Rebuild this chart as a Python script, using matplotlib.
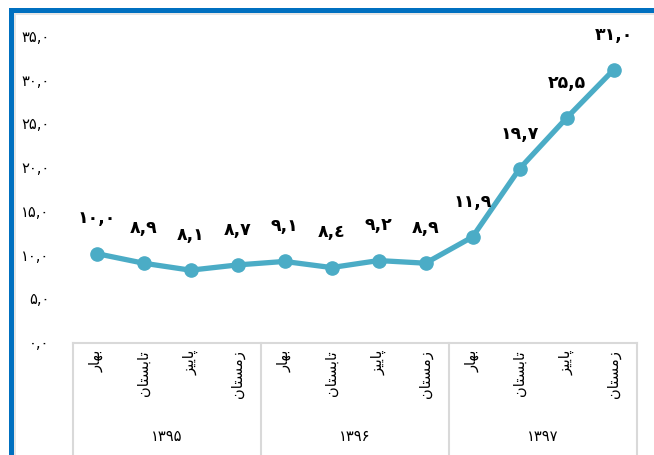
import matplotlib
matplotlib.use('Agg')
import matplotlib.pyplot as plt
from matplotlib.patches import Rectangle

# data
seasons = ['بهار', 'تابستان', 'پاییز', 'زمستان']
years = ['۱۳۹۵', '۱۳۹۶', '۱۳۹۷']
values = [10.0, 8.9, 8.1, 8.7, 9.1, 8.4, 9.2, 8.9, 11.9, 19.7, 25.5, 31.0]
value_labels = ['۱۰,۰', '۸,۹', '۸,۱', '۸,۷', '۹,۱', '۸,٤', '۹,۲', '۸,۹',
                '۱۱,۹', '۱۹,۷', '۲۵,۵', '۳۱,۰']
yticks = [0, 5, 10, 15, 20, 25, 30, 35]
ytick_labels = ['۰,۰', '۵,۰', '۱۰,۰', '۱۵,۰', '۲۰,۰', '۲۵,۰', '۳۰,۰', '۳۵,۰']

# tiny arabic shaper (matplotlib has no text shaping)
FORMS = {
    'ب': (0xFE8F, 0xFE90, 0xFE91, 0xFE92),
    'ه': (0xFEE9, 0xFEEA, 0xFEEB, 0xFEEC),
    'ا': (0xFE8D, 0xFE8E, None, None),
    'ر': (0xFEAD, 0xFEAE, None, None),
    'ز': (0xFEAF, 0xFEB0, None, None),
    'ت': (0xFE95, 0xFE96, 0xFE97, 0xFE98),
    'س': (0xFEB1, 0xFEB2, 0xFEB3, 0xFEB4),
    'ن': (0xFEE5, 0xFEE6, 0xFEE7, 0xFEE8),
    'پ': (0xFB56, 0xFB57, 0xFB58, 0xFB59),
    'ی': (0xFBFC, 0xFBFD, 0xFBFE, 0xFBFF),
    'م': (0xFEE1, 0xFEE2, 0xFEE3, 0xFEE4),
}

def shape(word):
    out = []
    for i, ch in enumerate(word):
        prev_joins = i > 0 and FORMS[word[i-1]][2] is not None
        next_exists = i < len(word) - 1
        f = FORMS[ch]
        joins_next = next_exists and f[2] is not None
        if prev_joins and joins_next:
            cp = f[3]
        elif prev_joins:
            cp = f[1]
        elif joins_next:
            cp = f[2]
        else:
            cp = f[0]
        out.append(chr(cp))
    return ''.join(out[::-1])

plt.rcParams['font.family'] = ['DejaVu Sans']

fig = plt.figure(figsize=(6.54, 4.56), dpi=100)
ax = fig.add_axes([73/654, 1-342/456, 564/654, 306/456])

x = list(range(len(values)))
col = '#4BACC6'
ax.plot(x, values, '-o', c=col, lw=3.8, ms=9.5, clip_on=False)

for xi, v, lab in zip(x, values, value_labels):
    ax.annotate(lab, (xi, v), xytext=(0, 26), textcoords='offset points',
                ha='center', va='center', fontsize=12.5, fontweight='bold')

ax.set_xlim(-0.5, 11.5)
ax.set_ylim(0, 35)
ax.set_yticks(yticks)
ax.set_yticklabels(ytick_labels, fontsize=10.5)
ax.set_xticks([])
ax.tick_params(axis='y', length=0, pad=17)
for s in ax.spines.values():
    s.set_visible(False)

# category box under the axis
tr = ax.get_xaxis_transform()
grey = '#d9d9d9'
ybox_top = -1.5/306
ybox_bot = -118/306
ax.plot([-0.5, 11.5], [ybox_top, ybox_top], c=grey, lw=1.5, transform=tr, clip_on=False)
for b in [-0.5, 3.5, 7.5, 11.5]:
    ax.plot([b, b], [ybox_top, ybox_bot], c=grey, lw=1.5, transform=tr, clip_on=False)

for i in x:
    ax.text(i, -8/306, shape(seasons[i % 4]), rotation=90, ha='center', va='top',
            fontsize=10.5, transform=tr)
for j, yr in enumerate(years):
    ax.text(4*j + 1.5, -95/306, yr, ha='center', va='center', fontsize=10.5, transform=tr)

# blue frame on the left and top
fig.add_artist(Rectangle((9/654, 0), 4.5/654, (456-9)/456, transform=fig.transFigure,
                         color='#0070C0', lw=0))
fig.add_artist(Rectangle((9/654, (456-13.5)/456), 1, 4.5/456, transform=fig.transFigure,
                         color='#0070C0', lw=0))
fig.add_artist(Rectangle((13.5/654, 0), 2/654, (456-13.5)/456, transform=fig.transFigure,
                         color='#e6e6e6', lw=0))
fig.add_artist(Rectangle((13.5/654, (456-15.5)/456), 1, 2/456, transform=fig.transFigure,
                         color='#e6e6e6', lw=0))

plt.savefig('out.png', dpi=100)
plt.close()
